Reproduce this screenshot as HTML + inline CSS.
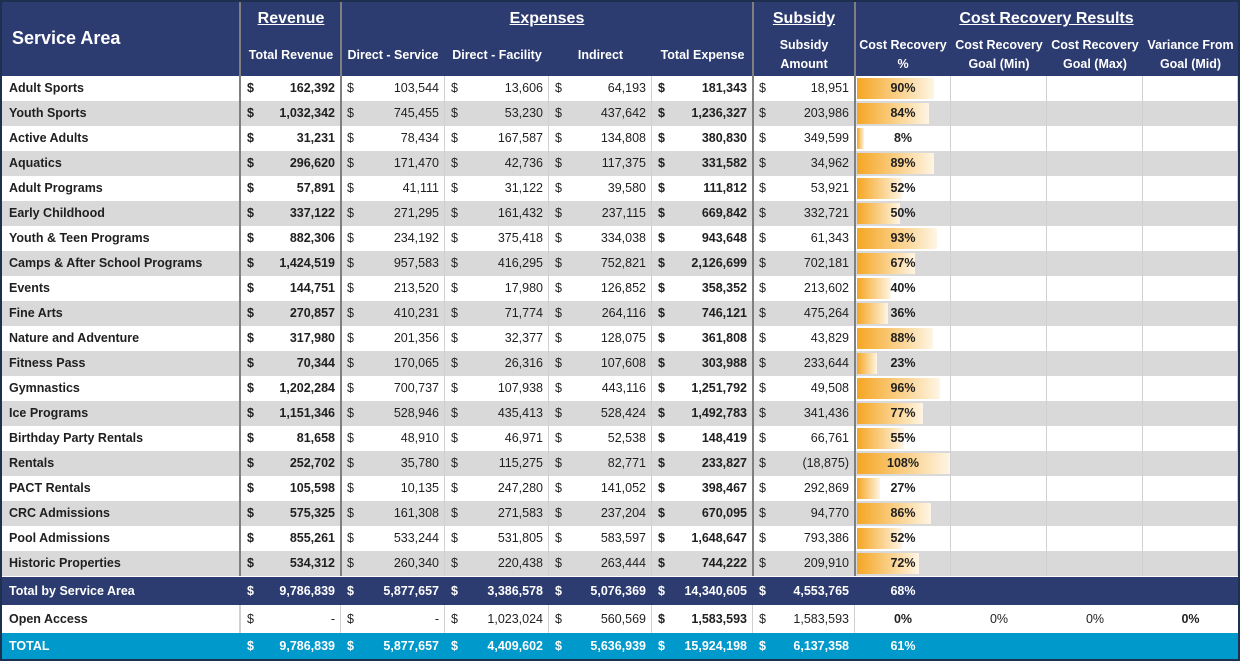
<!DOCTYPE html>
<html><head><meta charset="utf-8">
<style>
body{margin:0;width:1240px;height:661px;background:#1e3050;overflow:hidden;font-family:"Liberation Sans",sans-serif;}
#t{position:absolute;left:2px;top:2px;width:1236px;height:657px;background:#fff;}
.c{position:absolute;box-sizing:border-box;font-size:12.5px;line-height:25px;white-space:nowrap;overflow:hidden;color:#1f1f1f;}
.h{position:absolute;color:#fff;font-weight:bold;text-align:center;font-size:12.5px;line-height:19px;}
.hh{position:absolute;color:#fff;font-weight:bold;text-align:center;font-size:16px;text-decoration:underline;}
.vs{position:absolute;width:2px;background:#7f7f7f;}
</style></head><body>
<div id="t">
<div style="position:absolute;left:0;top:0;width:1236px;height:74px;background:#2c3b70"></div>
<div class="hh" style="left:10px;top:26px;text-decoration:none;font-size:18px;text-align:left">Service Area</div>
<div class="hh" style="left:239px;width:100px;top:8px">Revenue</div>
<div class="hh" style="left:339px;width:412px;top:8px">Expenses</div>
<div class="hh" style="left:751px;width:102px;top:8px">Subsidy</div>
<div class="hh" style="left:853px;width:383px;top:8px">Cost Recovery Results</div>
<div class="h" style="left:239px;width:100px;top:44px">Total Revenue</div>
<div class="h" style="left:339px;width:104px;top:44px">Direct - Service</div>
<div class="h" style="left:443px;width:104px;top:44px">Direct - Facility</div>
<div class="h" style="left:547px;width:103px;top:44px">Indirect</div>
<div class="h" style="left:650px;width:101px;top:44px">Total Expense</div>
<div class="h" style="left:751px;width:102px;top:34px">Subsidy<br>Amount</div>
<div class="h" style="left:853px;width:96px;top:34px">Cost Recovery<br>%</div>
<div class="h" style="left:949px;width:96px;top:34px">Cost Recovery<br>Goal (Min)</div>
<div class="h" style="left:1045px;width:96px;top:34px">Cost Recovery<br>Goal (Max)</div>
<div class="h" style="left:1141px;width:95px;top:34px">Variance From<br>Goal (Mid)</div>
</div>
<script>
const areas=["Adult Sports","Youth Sports","Active Adults","Aquatics","Adult Programs","Early Childhood","Youth & Teen Programs","Camps & After School Programs","Events","Fine Arts","Nature and Adventure","Fitness Pass","Gymnastics","Ice Programs","Birthday Party Rentals","Rentals","PACT Rentals","CRC Admissions","Pool Admissions","Historic Properties"];
const revenue=["162,392","1,032,342","31,231","296,620","57,891","337,122","882,306","1,424,519","144,751","270,857","317,980","70,344","1,202,284","1,151,346","81,658","252,702","105,598","575,325","855,261","534,312"];
const directService=["103,544","745,455","78,434","171,470","41,111","271,295","234,192","957,583","213,520","410,231","201,356","170,065","700,737","528,946","48,910","35,780","10,135","161,308","533,244","260,340"];
const directFacility=["13,606","53,230","167,587","42,736","31,122","161,432","375,418","416,295","17,980","71,774","32,377","26,316","107,938","435,413","46,971","115,275","247,280","271,583","531,805","220,438"];
const indirect=["64,193","437,642","134,808","117,375","39,580","237,115","334,038","752,821","126,852","264,116","128,075","107,608","443,116","528,424","52,538","82,771","141,052","237,204","583,597","263,444"];
const totalExpense=["181,343","1,236,327","380,830","331,582","111,812","669,842","943,648","2,126,699","358,352","746,121","361,808","303,988","1,251,792","1,492,783","148,419","233,827","398,467","670,095","1,648,647","744,222"];
const subsidy=["18,951","203,986","349,599","34,962","53,921","332,721","61,343","702,181","213,602","475,264","43,829","233,644","49,508","341,436","66,761","(18,875)","292,869","94,770","793,386","209,910"];
const recovery=[90,84,8,89,52,50,93,67,40,36,88,23,96,77,55,108,27,86,52,72];
const totalsLabels=["Total by Service Area","Open Access","TOTAL"];
const totalsVals=[["9,786,839","5,877,657","3,386,578","5,076,369","14,340,605","4,553,765"],["-","-","1,023,024","560,569","1,583,593","1,583,593"],["9,786,839","5,877,657","4,409,602","5,636,939","15,924,198","6,137,358"]];
const totalsPct=[68,0,61];
const t=document.getElementById('t');
const cols=[[239,100],[339,104],[443,104],[547,103],[650,101],[751,102]];
const pctCols=[[853,96],[949,96],[1045,96],[1141,95]];
const barScale=0.86;
function cell(x,y,w,h,txt,style,name){const d=document.createElement('div');d.className='c';


d.style.cssText=`left:${x}px;top:${y}px;width:${w}px;height:${h}px;line-height:${h}px;`+style;d.textContent=txt;t.appendChild(d);return d;}
function money(x,y,w,h,v,bold,color,bg,name,border){
 cell(x,y,w,h,'',`background:${bg};`+(border?'border-right:1px solid #d0d0d0':''),name+'-cell');
 cell(x+6,y,12,h,'$',`color:${color};font-weight:${bold?'bold':'normal'}`,name+'-dollar');
 cell(x,y,w-6,h,v,`text-align:right;color:${color};font-weight:${bold?'bold':'normal'}`,name+'-value');
}
areas.forEach((a,i)=>{
 const y=74+i*25,bg=i%2?'#d9d9d9':'#fff';
 cell(0,y,239,25,a,`background:${bg};padding-left:7px;font-weight:bold`,'row-label');
 const vals=[revenue[i],directService[i],directFacility[i],indirect[i],totalExpense[i],subsidy[i]];
 vals.forEach((v,j)=>money(cols[j][0],y,cols[j][1],25,v,j==0||j==4,'#1f1f1f',bg,'row-'+i+'-col-'+j,true));
 pctCols.forEach((p,j)=>cell(p[0],y,p[1],25,'',`background:${bg};border-right:1px solid #d0d0d0`,'pct-cell'));
 const b=document.createElement('div');
 
 
 b.style.cssText=`position:absolute;left:855px;top:${y+2}px;height:21px;width:${recovery[i]*barScale}px;background:linear-gradient(90deg,#f5a623,#fde9c6 85%,#fff5e6)`;
 t.appendChild(b);
 cell(853,y,96,25,recovery[i]+'%','text-align:center;font-weight:bold','recovery-pct');
});
const ty=[575,603,631],th=[28,28,26],tbg=['#2c3b70','#fff','#0099cc'],tc=['#fff','#1f1f1f','#fff'];
totalsLabels.forEach((l,i)=>{
 cell(0,ty[i],1236,th[i],'',`background:${tbg[i]}`,'total-row-bg');
 cell(0,ty[i],239,th[i],l,`padding-left:7px;font-weight:bold;color:${tc[i]};background:${tbg[i]};`+(i==1?'border-right:2px solid #d0d0d0':''),'total-label');
 totalsVals[i].forEach((v,j)=>money(cols[j][0],ty[i],cols[j][1],th[i],v,i!=1||j==4,tc[i],tbg[i],'total-'+i+'-col-'+j,i==1));
 cell(853,ty[i],96,th[i],totalsPct[i]+'%',`text-align:center;font-weight:bold;color:${tc[i]}`,'total-pct');
 if(i==1){cell(949,ty[i],96,th[i],'0%','text-align:center','goal-min');cell(1045,ty[i],96,th[i],'0%','text-align:center','goal-max');cell(1141,ty[i],95,th[i],'0%','text-align:center;font-weight:bold','variance');}
});
[237,338,750,852].forEach(x=>{const v=document.createElement('div');v.className='vs';


v.style.cssText=`left:${x}px;top:0;height:574px`;t.appendChild(v);});
</script>
</body></html>
